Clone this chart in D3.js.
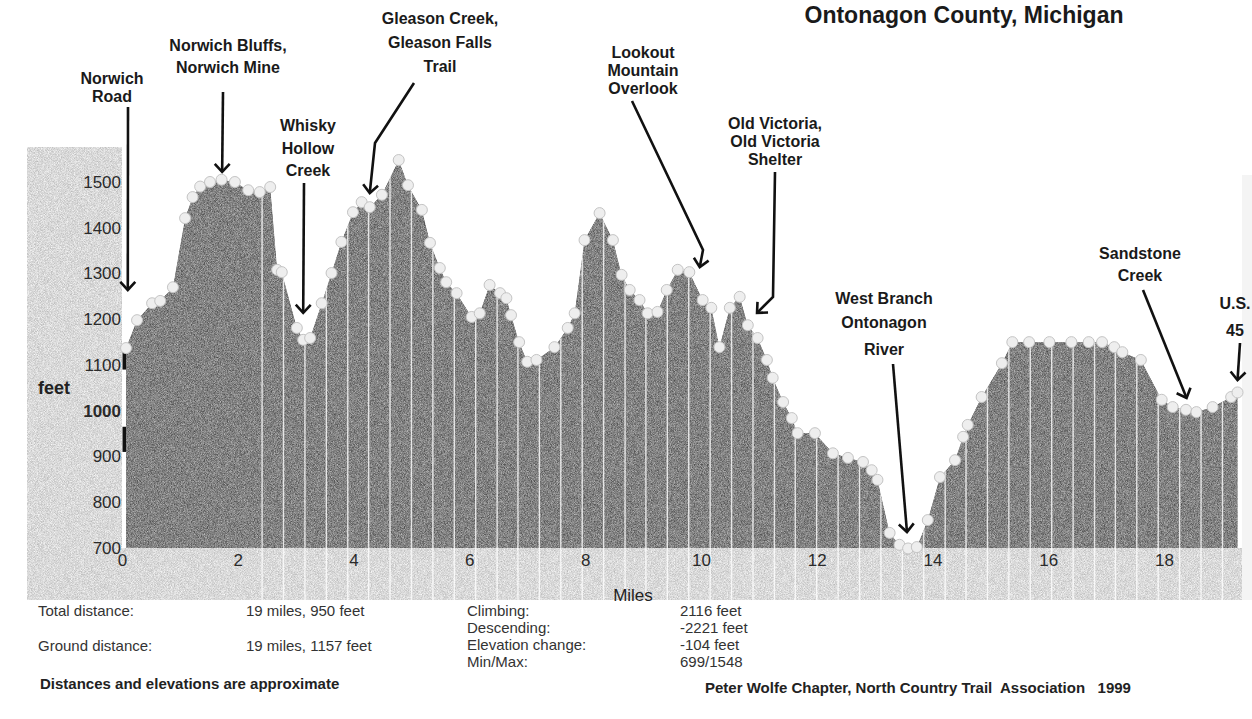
<!DOCTYPE html>
<html>
<head>
<meta charset="utf-8">
<script src="https://cdn.jsdelivr.net/npm/d3@7"></script>
<style>
  body { margin: 0; background: #fff; }
  text { font-family: "Liberation Sans", Arial, sans-serif; }
</style>
</head>
<body>
<script>
// trail profile (miles from Norwich Road, elevation in feet)
var miles = [0.07, 0.26, 0.52, 0.66, 0.88, 1.09, 1.22, 1.35, 1.52, 1.72, 1.95, 2.18, 2.38, 2.56, 2.68, 2.76,
  3.02, 3.13, 3.25, 3.45, 3.62, 3.79, 3.99, 4.14, 4.28, 4.49, 4.78, 4.94, 5.18, 5.32, 5.49, 5.6, 5.78,
  6.04, 6.18, 6.35, 6.53, 6.64, 6.72, 6.86, 7.0, 7.16, 7.47, 7.7, 7.82, 7.99, 8.25, 8.48, 8.63, 8.77,
  8.94, 9.08, 9.25, 9.41, 9.6, 9.8, 10.03, 10.18, 10.32, 10.5, 10.67, 10.81, 10.98, 11.14, 11.24, 11.42,
  11.57, 11.67, 11.97, 12.28, 12.54, 12.8, 12.95, 13.05, 13.26, 13.43, 13.58, 13.73, 13.92, 14.13, 14.39,
  14.53, 14.61, 14.85, 15.2, 15.38, 15.67, 16.02, 16.4, 16.7, 16.93, 17.14, 17.28, 17.6, 17.96, 18.15,
  18.38, 18.56, 18.84, 19.16, 19.27];
var feet = [1137, 1198, 1235, 1240, 1270, 1421, 1467, 1490, 1500, 1505, 1500, 1482, 1478, 1489, 1308, 1303,
  1181, 1155, 1159, 1235, 1301, 1369, 1434, 1456, 1445, 1472, 1548, 1493, 1439, 1367, 1312, 1281, 1257,
  1205, 1213, 1275, 1257, 1246, 1209, 1150, 1107, 1111, 1139, 1181, 1213, 1373, 1432, 1373, 1297, 1264,
  1242, 1213, 1216, 1264, 1308, 1303, 1242, 1225, 1139, 1225, 1249, 1187, 1159, 1111, 1072, 1019,
  984, 951, 951, 907, 897, 888, 870, 849, 733, 707, 699, 702, 761, 855, 892,
  943, 969, 1030, 1104, 1150, 1150, 1150, 1150, 1150, 1150, 1139, 1128, 1111, 1024, 1008,
  1002, 997, 1008, 1030, 1040];

// the white sample lines that run down through the profile
var gridMiles = [2.42, 2.79, 3.16, 3.53, 3.90, 4.26, 4.63, 5.00, 5.37, 5.74, 6.11, 6.48, 6.84, 7.21, 7.58,
  7.95, 8.32, 8.69, 9.05, 9.42, 9.79, 10.16, 10.53, 10.90, 11.27, 11.63, 12.00, 12.37, 12.74, 13.11,
  13.48, 13.85, 14.22, 14.58, 14.95, 15.32, 15.69, 16.06, 16.43, 16.80, 17.16, 17.53, 17.90, 18.27,
  18.64, 19.01];

var yTicks = [700, 800, 900, 1000, 1100, 1200, 1300, 1400, 1500];
var xTicks = [0, 2, 4, 6, 8, 10, 12, 14, 16, 18];

var landmarkNames = [
  ["Norwich", "Road"],
  ["Norwich Bluffs,", "Norwich Mine"],
  ["Whisky", "Hollow", "Creek"],
  ["Gleason Creek,", "Gleason Falls", "Trail"],
  ["Lookout", "Mountain", "Overlook"],
  ["Old Victoria,", "Old Victoria", "Shelter"],
  ["West Branch", "Ontonagon", "River"],
  ["Sandstone", "Creek"],
  ["U.S.", "45"]
];
var landmarkMiles = [0.1, 1.73, 3.13, 4.28, 9.98, 10.97, 13.56, 18.39, 19.27];
var landmarkFeet = [1264, 1522, 1214, 1476, 1314, 1214, 735, 1028, 1067];

var statLabelsLeft = ["Total distance:", "Ground distance:"];
var statValuesLeft = ["19 miles, 950 feet", "19 miles, 1157 feet"];
var statLabelsRight = ["Climbing:", "Descending:", "Elevation change:", "Min/Max:"];
var statValuesRight = ["2116 feet", "-2221 feet", "-104 feet", "699/1548"];

// label placement (pixels): centre x, line centres, arrow start / bend points
var labelLayout = [
  { cx: 112, ys: [78, 96], path: [[128, 107]] },
  { cx: 228, ys: [45, 67], path: [[223, 92]] },
  { cx: 308, ys: [125, 148, 170], path: [[304, 183]] },
  { cx: 440, ys: [18, 42, 66], path: [[414, 83], [375, 143]] },
  { cx: 643, ys: [52, 70, 88], path: [[632, 101], [703, 250]] },
  { cx: 775, ys: [123, 141, 159], path: [[775, 172], [773, 297]] },
  { cx: 884, ys: [298, 322, 349], path: [[893, 364]] },
  { cx: 1140, ys: [253, 275], path: [[1143, 290]] },
  { cx: 1235, ys: [303, 330], path: [[1240, 343]] }
];

var svgWidth = 1252;
var svgHeight = 719;

var x = d3.scaleLinear().domain([0, 18]).range([122, 1164]);
var y = d3.scaleLinear().domain([700, 1500]).range([548, 182]);

var svg = d3.select("body")
  .append("svg")
  .attr("width", svgWidth)
  .attr("height", svgHeight);

var defs = svg.append("defs");

// speckled scan texture
function grain(id, amount, seed) {
  var f = defs.append("filter")
    .attr("id", id)
    .attr("x", 0).attr("y", 0).attr("width", 1).attr("height", 1)
    .attr("color-interpolation-filters", "sRGB");
  f.append("feTurbulence")
    .attr("type", "fractalNoise")
    .attr("baseFrequency", 1.3)
    .attr("numOctaves", 1)
    .attr("seed", seed)
    .attr("result", "n");
  f.append("feColorMatrix")
    .attr("in", "n")
    .attr("type", "matrix")
    .attr("values", "1 0 0 0 0  1 0 0 0 0  1 0 0 0 0  0 0 0 0 1")
    .attr("result", "g");
  f.append("feComposite")
    .attr("in", "g").attr("in2", "SourceGraphic")
    .attr("operator", "arithmetic")
    .attr("k1", 0).attr("k2", amount).attr("k3", 1).attr("k4", -amount / 2)
    .attr("result", "m");
  f.append("feComposite")
    .attr("in", "m").attr("in2", "SourceGraphic")
    .attr("operator", "in");
}
grain("grainDark", 0.7, 4);
grain("grainLight", 0.4, 9);

var data = miles.map(function (m, i) { return { m: m, ft: feet[i] }; });

var area = d3.area()
  .x(d => x(d.m))
  .y0(y(700))
  .y1(d => y(d.ft));

// light panels: axis column and the miles strip
svg.append("rect")
  .attr("x", 27).attr("y", 147)
  .attr("width", 95).attr("height", 453)
  .attr("fill", "#d9d9d9")
  .attr("filter", "url(#grainLight)");
svg.append("rect")
  .attr("x", 27).attr("y", y(700))
  .attr("width", 1216).attr("height", 600 - y(700))
  .attr("fill", "#d9d9d9")
  .attr("filter", "url(#grainLight)");
svg.append("rect")
  .attr("x", 1242).attr("y", 175)
  .attr("width", 10).attr("height", 425)
  .attr("fill", "#f4f4f4");

// profile
svg.append("path")
  .datum(data)
  .attr("d", area)
  .attr("fill", "#828282")
  .attr("filter", "url(#grainDark)");

// sample lines, clipped to the profile and the strip
var clip = defs.append("clipPath").attr("id", "profileClip");
clip.append("path").datum(data).attr("d", area);
clip.append("rect")
  .attr("x", 27).attr("y", y(700))
  .attr("width", 1216).attr("height", 600 - y(700));

svg.append("g")
  .attr("clip-path", "url(#profileClip)")
  .selectAll("line")
  .data(gridMiles)
  .enter()
  .append("line")
  .attr("x1", d => x(d)).attr("x2", d => x(d))
  .attr("y1", 150).attr("y2", 600)
  .attr("stroke", "#ffffff")
  .attr("stroke-width", 1.4)
  .attr("opacity", 0.8);

// thick marks on the axis edge
svg.append("g")
  .selectAll("rect")
  .data([[1140, 1090], [965, 910]])
  .enter()
  .append("rect")
  .attr("x", 122.5).attr("width", 3.5)
  .attr("y", d => y(d[0]))
  .attr("height", d => y(d[1]) - y(d[0]))
  .attr("fill", "#111");

// sample points
svg.append("g")
  .selectAll("circle")
  .data(data)
  .enter()
  .append("circle")
  .attr("cx", d => x(d.m))
  .attr("cy", d => y(d.ft))
  .attr("r", 5.5)
  .attr("fill", "#eeeeee")
  .attr("stroke", "#c4c4c4")
  .attr("stroke-width", 1);

// axes
var leftAxis = d3.axisLeft(y).tickValues(yTicks).tickSize(0).tickPadding(3).tickFormat(d3.format("d"));
var bottomAxis = d3.axisBottom(x).tickValues(xTicks).tickSize(0).tickPadding(6);

var yAxisG = svg.append("g")
  .attr("transform", "translate(124,0)")
  .call(leftAxis);
var xAxisG = svg.append("g")
  .attr("transform", `translate(0, ${y(700)})`)
  .call(bottomAxis);

[yAxisG, xAxisG].forEach(function (g) {
  g.select(".domain").remove();
  g.selectAll("text")
    .attr("font-family", "'Liberation Sans', Arial, sans-serif")
    .attr("font-size", 17)
    .attr("fill", "#2a2a2a");
});
yAxisG.selectAll("text").filter(d => d === 1000).attr("font-weight", "bold");

svg.append("text")
  .attr("x", 38).attr("y", 388)
  .attr("dy", "0.35em")
  .attr("font-size", 18)
  .attr("font-weight", "bold")
  .attr("fill", "#222")
  .text("feet");

svg.append("text")
  .attr("x", 633).attr("y", 595)
  .attr("dy", "0.35em")
  .attr("text-anchor", "middle")
  .attr("font-size", 17)
  .attr("fill", "#222")
  .text("Miles");

// title
svg.append("text")
  .attr("x", 964).attr("y", 15)
  .attr("dy", "0.35em")
  .attr("text-anchor", "middle")
  .attr("font-size", 23)
  .attr("font-weight", "bold")
  .attr("fill", "#1a1a1a")
  .text("Ontonagon County, Michigan");

// landmark labels and arrows
var labels = svg.append("g");
landmarkNames.forEach(function (lines, i) {
  var lay = labelLayout[i];
  lines.forEach(function (t, j) {
    labels.append("text")
      .attr("x", lay.cx).attr("y", lay.ys[j])
      .attr("dy", "0.35em")
      .attr("text-anchor", "middle")
      .attr("font-size", 16)
      .attr("font-weight", "bold")
      .attr("fill", "#1a1a1a")
      .text(t);
  });

  var tip = [x(landmarkMiles[i]), y(landmarkFeet[i])];
  var pts = lay.path.concat([tip]);
  labels.append("path")
    .attr("d", d3.line()(pts))
    .attr("fill", "none")
    .attr("stroke", "#111")
    .attr("stroke-width", 2.6);

  var prev = pts[pts.length - 2];
  var ang = Math.atan2(tip[1] - prev[1], tip[0] - prev[0]);
  var len = 11, spread = Math.PI / 4.2;
  var head = [
    [tip[0] - len * Math.cos(ang - spread), tip[1] - len * Math.sin(ang - spread)],
    tip,
    [tip[0] - len * Math.cos(ang + spread), tip[1] - len * Math.sin(ang + spread)]
  ];
  labels.append("path")
    .attr("d", d3.line()(head))
    .attr("fill", "none")
    .attr("stroke", "#111")
    .attr("stroke-width", 2.6)
    .attr("stroke-linejoin", "miter");
});

// summary block
var stats = svg.append("g")
  .attr("font-size", 15)
  .attr("fill", "#333");
var leftRows = [611, 646];
statLabelsLeft.forEach(function (t, i) {
  stats.append("text").attr("x", 38).attr("y", leftRows[i]).attr("dy", "0.35em").text(t);
  stats.append("text").attr("x", 246).attr("y", leftRows[i]).attr("dy", "0.35em").text(statValuesLeft[i]);
});
var rightRows = [611, 628, 645, 662];
statLabelsRight.forEach(function (t, i) {
  stats.append("text").attr("x", 467).attr("y", rightRows[i]).attr("dy", "0.35em").text(t);
  stats.append("text").attr("x", 680).attr("y", rightRows[i]).attr("dy", "0.35em").text(statValuesRight[i]);
});

svg.append("text")
  .attr("x", 40).attr("y", 684)
  .attr("dy", "0.35em")
  .attr("font-size", 15)
  .attr("font-weight", "bold")
  .attr("fill", "#222")
  .text("Distances and elevations are approximate");

svg.append("text")
  .attr("x", 705).attr("y", 688)
  .attr("dy", "0.35em")
  .attr("font-size", 15)
  .attr("font-weight", "bold")
  .attr("fill", "#222")
  .style("white-space", "pre")
  .text("Peter Wolfe Chapter, North Country Trail  Association   1999");
</script>
</body>
</html>
